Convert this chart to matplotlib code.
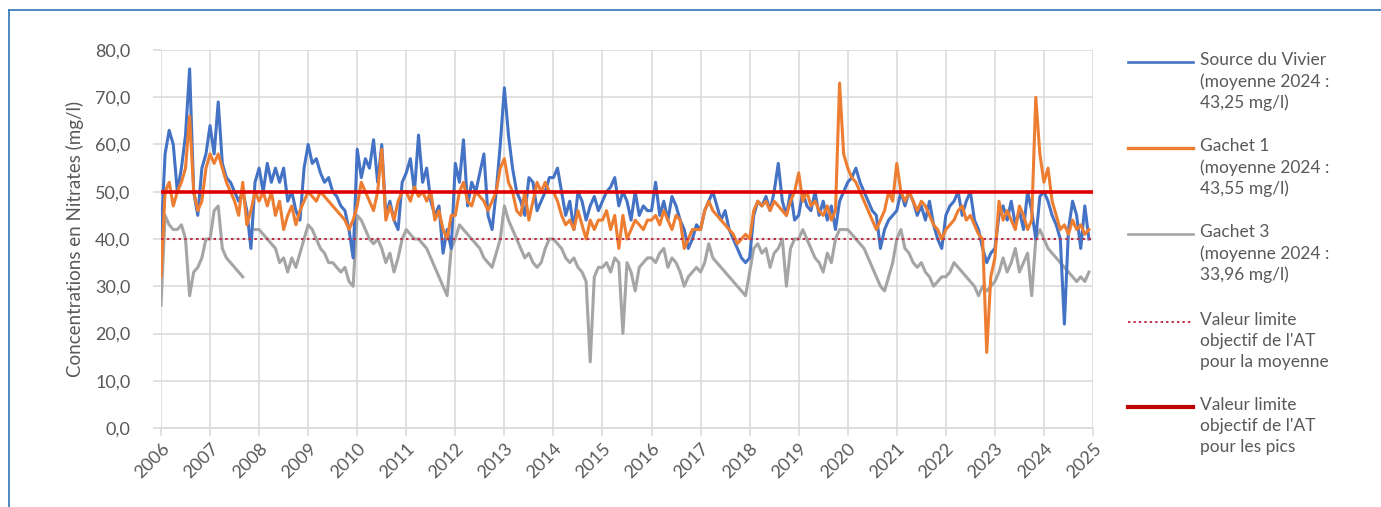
import numpy as np
import matplotlib.pyplot as plt
from matplotlib.lines import Line2D

plt.rcParams['font.family'] = ['Lato', 'DejaVu Sans']

nan = np.nan
first_year = 2006

# monthly values (Jan..Dec), one row per year 2006-2024
vivier = [
    40, 58, 63, 60, 50, 55, 62, 76, 50, 45, 55, 58,   # 2006
    64, 58, 69, 56, 53, 52, 50, 48, 50, 46, 38, 52,   # 2007
    55, 50, 56, 52, 55, 52, 55, 48, 50, 46, 44, 55,   # 2008
    60, 56, 57, 54, 52, 53, 50, 49, 47, 46, 42, 36,   # 2009
    59, 53, 57, 55, 61, 52, 60, 45, 48, 44, 42, 52,   # 2010
    54, 57, 50, 62, 52, 55, 48, 45, 47, 37, 42, 38,   # 2011
    56, 52, 61, 47, 52, 50, 54, 58, 45, 42, 50, 60,   # 2012
    72, 62, 55, 50, 48, 45, 53, 52, 46, 48, 50, 53,   # 2013
    53, 55, 50, 45, 48, 42, 50, 48, 44, 47, 49, 46,   # 2014
    48, 50, 51, 53, 47, 50, 48, 44, 50, 45, 47, 46,   # 2015
    46, 52, 45, 48, 44, 49, 47, 44, 42, 38, 40, 43,   # 2016
    42, 46, 48, 50, 47, 44, 46, 42, 40, 38, 36, 35,   # 2017
    36, 45, 48, 47, 49, 46, 50, 56, 48, 45, 50, 44,   # 2018
    45, 50, 47, 46, 50, 45, 48, 44, 47, 42, 48, 50,   # 2019
    52, 53, 55, 52, 50, 48, 46, 45, 38, 42, 44, 45,   # 2020
    46, 50, 47, 50, 48, 45, 47, 44, 48, 43, 40, 38,   # 2021
    45, 47, 48, 50, 45, 48, 50, 44, 42, 38, 35, 37,   # 2022
    38, 45, 47, 44, 48, 43, 46, 42, 50, 46, 40, 49,   # 2023
    50, 48, 45, 43, 40, 22, 42, 48, 45, 38, 47, 40,   # 2024
]

gachet1 = [
    32, 50, 52, 47, 50, 52, 55, 66, 50, 46, 48, 55,   # 2006
    58, 56, 58, 55, 52, 50, 48, 45, 52, 43, 46, 50,   # 2007
    48, 50, 47, 50, 45, 48, 42, 45, 47, 43, 46, 48,   # 2008
    50, 49, 48, 50, 49, 48, 47, 46, 45, 44, 42, 44,   # 2009
    47, 52, 50, 48, 46, 50, 59, 44, 47, 44, 48, 50,   # 2010
    50, 48, 51, 49, 50, 48, 50, 44, 46, 42, 40, 45,   # 2011
    45, 50, 52, 48, 47, 50, 49, 48, 46, 48, 50, 55,   # 2012
    57, 52, 50, 46, 45, 50, 44, 48, 52, 50, 52, 50,   # 2013
    50, 48, 45, 43, 44, 42, 46, 43, 40, 44, 42, 44,   # 2014
    44, 46, 42, 45, 38, 45, 40, 42, 44, 43, 42, 44,   # 2015
    44, 45, 43, 46, 44, 42, 45, 44, 38, 40, 42, 42,   # 2016
    42, 46, 48, 46, 45, 44, 43, 42, 41, 39, 40, 41,   # 2017
    40, 46, 48, 47, 48, 46, 48, 47, 46, 45, 48, 50,   # 2018
    54, 48, 50, 47, 48, 46, 45, 47, 44, 46, 73, 58,   # 2019
    55, 53, 52, 50, 48, 46, 44, 42, 44, 46, 50, 48,   # 2020
    56, 50, 48, 50, 48, 46, 48, 47, 45, 43, 42, 40,   # 2021
    42, 43, 44, 46, 47, 44, 45, 43, 41, 40, 16, 32,   # 2022
    36, 48, 44, 46, 44, 42, 47, 45, 42, 44, 70, 58,   # 2023
    52, 55, 48, 45, 42, 43, 41, 44, 42, 43, 41, 42,   # 2024
]

gachet3 = [
    26, 45, 43, 42, 42, 43, 40, 28, 33, 34, 36, 40,   # 2006
    40, 46, 47, 38, 36, 35, 34, 33, 32, nan, nan, 42, # 2007
    42, 41, 40, 39, 38, 35, 36, 33, 36, 34, 37, 40,   # 2008
    43, 42, 40, 38, 37, 35, 35, 34, 33, 34, 31, 30,   # 2009
    45, 44, 42, 40, 39, 40, 38, 35, 37, 33, 36, 40,   # 2010
    42, 41, 40, 40, 39, 38, 36, 34, 32, 30, 28, 38,   # 2011
    40, 43, 42, 41, 40, 39, 38, 36, 35, 34, 37, 40,   # 2012
    47, 44, 42, 40, 38, 36, 37, 35, 34, 35, 38, 40,   # 2013
    40, 39, 38, 36, 35, 36, 34, 33, 31, 14, 32, 34,   # 2014
    34, 35, 33, 36, 35, 20, 35, 33, 29, 34, 35, 36,   # 2015
    36, 35, 37, 38, 34, 36, 35, 33, 30, 32, 33, 34,   # 2016
    33, 35, 39, 36, 35, 34, 33, 32, 31, 30, 29, 28,   # 2017
    33, 38, 39, 37, 38, 34, 37, 38, 40, 30, 38, 40,   # 2018
    40, 42, 40, 38, 36, 35, 33, 37, 35, 40, 42, 42,   # 2019
    42, 41, 40, 39, 38, 36, 34, 32, 30, 29, 32, 35,   # 2020
    40, 42, 38, 37, 35, 34, 35, 33, 32, 30, 31, 32,   # 2021
    32, 33, 35, 34, 33, 32, 31, 30, 28, 30, 29, 30,   # 2022
    31, 33, 36, 33, 35, 38, 33, 35, 37, 28, 40, 42,   # 2023
    40, 38, 37, 36, 35, 34, 33, 32, 31, 32, 31, 33,   # 2024
]

limite_moyenne = 40
limite_pics = 50

labels = [
    "Source du Vivier\n(moyenne 2024 :\n43,25 mg/l)",
    "Gachet 1\n(moyenne 2024 :\n43,55 mg/l)",
    "Gachet 3\n(moyenne 2024 :\n33,96 mg/l)",
    "Valeur limite\nobjectif de l'AT\npour la moyenne",
    "Valeur limite\nobjectif de l'AT\npour les pics",
]

blue = '#4472c4'
orange = '#ed7d31'
grey = '#a5a5a5'
red = '#e00000'
dotred = '#c0304a'
txt = '#595959'
gridc = '#d9d9d9'

W, H = 1381, 507
fig = plt.figure(figsize=(W / 100, H / 100), dpi=100)
ax = fig.add_axes([161 / W, 1 - 428 / H, (1093 - 161) / W, (428 - 50) / H])

x = first_year + np.arange(len(vivier)) / 12

ax.plot(x, vivier, color=blue, lw=2.2, zorder=3)
ax.plot(x, gachet1, color=orange, lw=2.2, zorder=4)
ax.plot(x, gachet3, color=grey, lw=2.2, zorder=2)
ax.axhline(limite_moyenne, color=dotred, lw=1.5, ls=(0, (1.2, 1.6)), zorder=5)
ax.axhline(limite_pics, color=red, lw=2.6, zorder=5)

ax.set_xlim(2006, 2025)
ax.set_ylim(0, 80)
ax.set_xticks(range(2006, 2026))
ax.set_yticks(range(0, 81, 10))
ax.set_yticklabels([f"{v},0" for v in range(0, 81, 10)])
ax.grid(True, color=gridc, lw=1.1, zorder=0)
for s in ['top', 'right', 'left']:
    ax.spines[s].set_visible(False)
ax.spines['bottom'].set_color(gridc)
ax.spines['bottom'].set_linewidth(1.1)
ax.tick_params(axis='both', colors=gridc, length=6, width=1.1, labelsize=13, labelcolor=txt)
ax.tick_params(axis='y', pad=16)
ax.tick_params(axis='x', pad=3)
for lab in ax.get_xticklabels():
    lab.set_rotation(45)
    lab.set_ha('right')
    lab.set_rotation_mode('anchor')
ax.set_ylabel("Concentrations en Nitrates (mg/l)", fontsize=13.5, color=txt, labelpad=8)

# legend, drawn by hand so each handle sits on the first text line
styles = [
    dict(color=blue, lw=1.9),
    dict(color=orange, lw=2.4),
    dict(color=grey, lw=1.9),
    dict(color=dotred, lw=1.4, ls=(0, (1.2, 1.6))),
    dict(color='#c00000', lw=3),
]
rows = [62, 148, 234, 322, 407]
for lab, st, yy in zip(labels, styles, rows):
    yf = 1 - yy / H
    fig.add_artist(Line2D([1128 / W, 1193 / W], [yf, yf], **st))
    fig.text(1200 / W, 1 - (yy - 10) / H, lab, fontsize=12.5, color=txt,
             va='top', ha='left', linespacing=1.38)

# frame around the figure
fig.add_artist(Line2D([9 / W, 1], [1 - 10 / H, 1 - 10 / H], color='#2e75b6', lw=1.2))
fig.add_artist(Line2D([9 / W, 9 / W], [0, 1 - 10 / H], color='#2e75b6', lw=1.2))

fig.savefig('out.png', dpi=100)
